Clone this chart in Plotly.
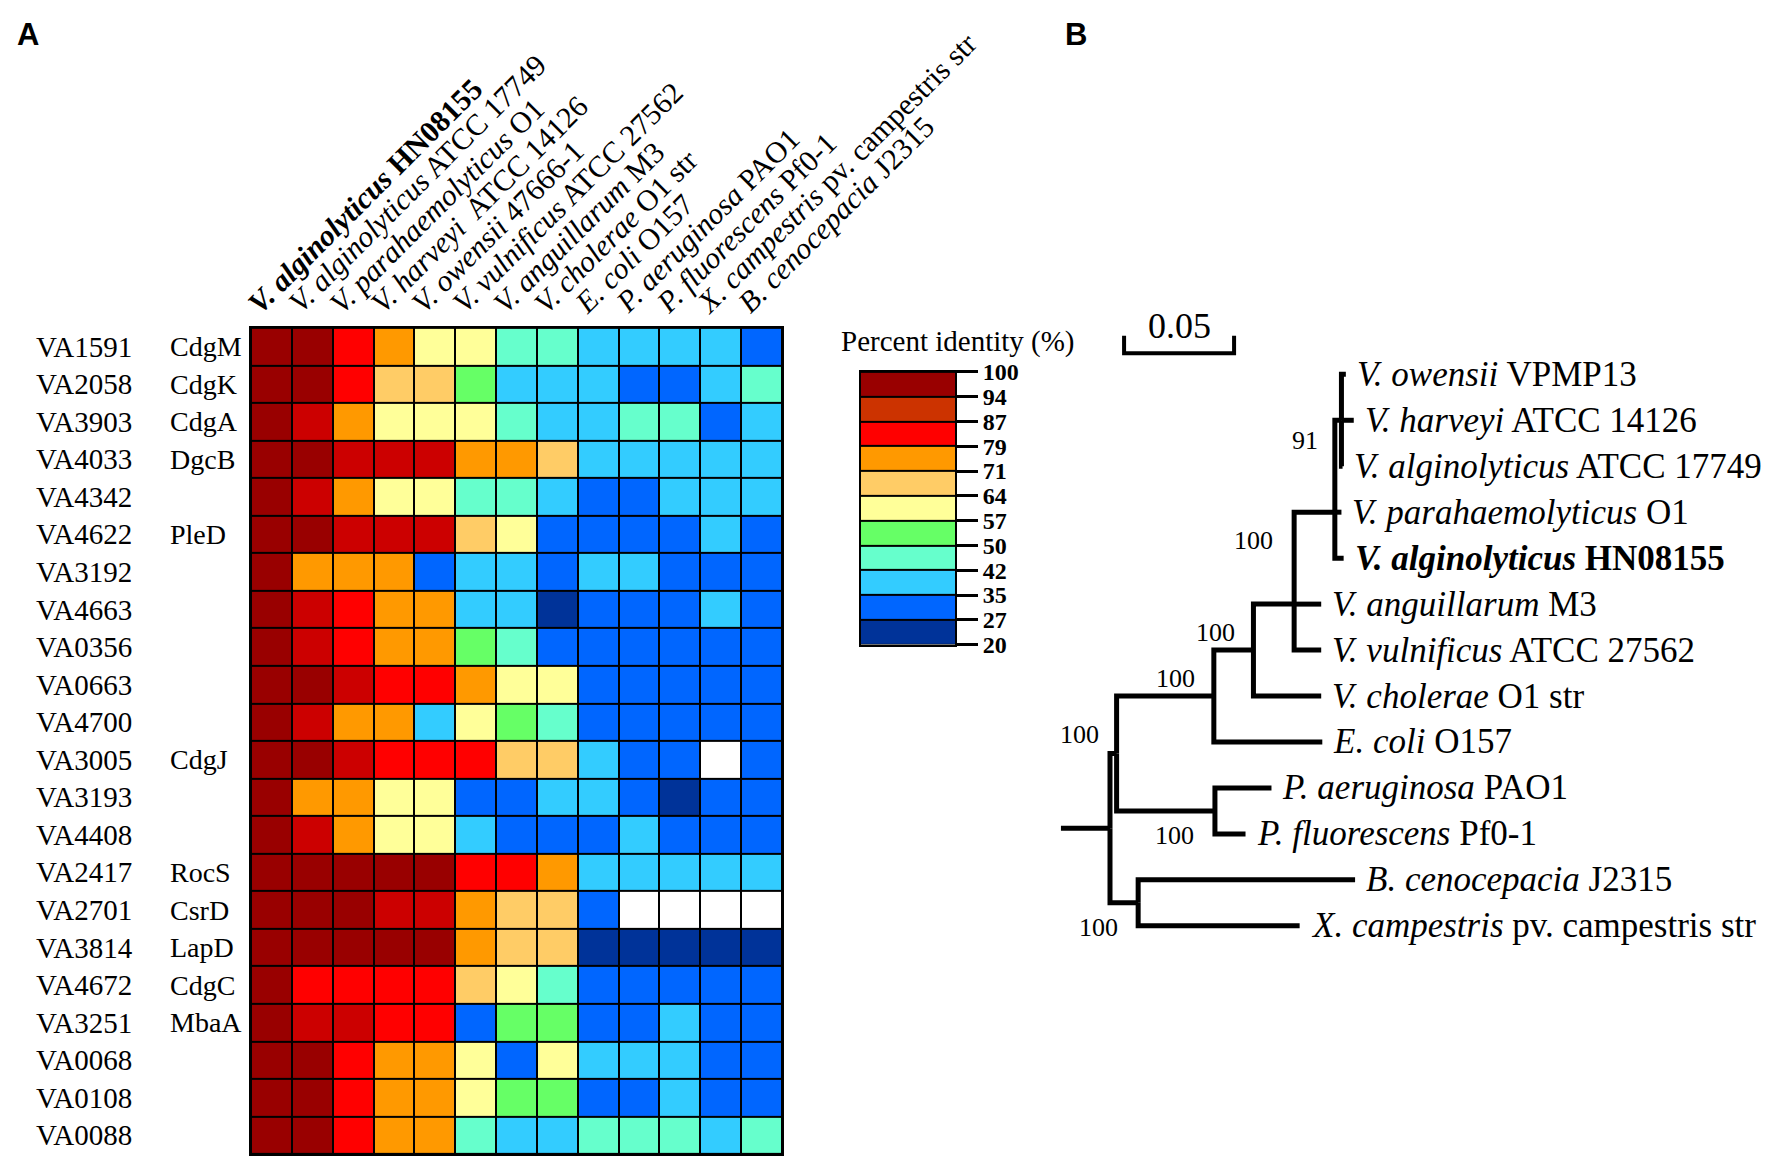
import plotly.graph_objects as go

# ---------------- data ----------------
COLUMNS = [
    "<b><i>V. alginolyticus</i> HN08155</b>",
    "<i>V. alginolyticus</i> ATCC 17749",
    "<i>V. parahaemolyticus</i> O1",
    "<i>V. harveyi</i>\u00a0 ATCC 14126",
    "<i>V. owensii</i> 47666-1",
    "<i>V. vulnificus</i> ATCC 27562",
    "<i>V. anguillarum</i> M3",
    "<i>V. cholerae</i> O1 str",
    "<i>E. coli</i> O157",
    "<i>P. aeruginosa</i> PAO1",
    "<i>P. fluorescens</i> Pf0-1",
    "<i>X. campestris</i> pv. campestris str",
    "<i>B. cenocepacia</i> J2315",
]

ROW_IDS = ["VA1591", "VA2058", "VA3903", "VA4033", "VA4342", "VA4622", "VA3192",
           "VA4663", "VA0356", "VA0663", "VA4700", "VA3005", "VA3193", "VA4408",
           "VA2417", "VA2701", "VA3814", "VA4672", "VA3251", "VA0068", "VA0108",
           "VA0088"]
GENE_NAMES = ["CdgM", "CdgK", "CdgA", "DgcB", "", "PleD", "", "", "", "", "",
              "CdgJ", "", "", "RocS", "CsrD", "LapD", "CdgC", "MbaA", "", "", ""]

N = None  # no homolog (white cell)
IDENTITY = [
    [100, 96, 84, 76, 61, 59, 47, 45, 39, 38, 37, 38, 31],
    [100, 95, 83, 68, 66, 54, 39, 38, 37, 32, 31, 38, 45],
    [100, 91, 74, 61, 60, 59, 45, 40, 39, 46, 44, 32, 38],
    [100, 95, 90, 89, 88, 76, 74, 66, 39, 38, 37, 38, 37],
    [100, 91, 75, 60, 61, 46, 44, 38, 33, 32, 38, 37, 39],
    [100, 96, 90, 89, 89, 67, 61, 32, 31, 31, 30, 37, 31],
    [100, 74, 73, 73, 32, 38, 37, 31, 38, 37, 31, 30, 31],
    [100, 90, 84, 75, 74, 38, 37, 24, 31, 30, 30, 38, 31],
    [100, 89, 82, 74, 73, 53, 45, 32, 30, 31, 30, 30, 29],
    [100, 95, 89, 84, 83, 75, 60, 59, 31, 31, 30, 30, 30],
    [100, 90, 76, 73, 38, 60, 53, 46, 31, 30, 30, 29, 30],
    [100, 96, 91, 84, 83, 82, 67, 66, 38, 32, 31, N, 31],
    [100, 75, 74, 61, 60, 32, 31, 38, 37, 31, 25, 30, 31],
    [100, 90, 74, 60, 61, 37, 31, 31, 30, 38, 31, 30, 30],
    [100, 98, 97, 96, 96, 84, 83, 75, 39, 38, 38, 37, 38],
    [100, 97, 95, 91, 90, 74, 67, 66, 32, N, N, N, N],
    [100, 97, 96, 95, 95, 74, 68, 66, 24, 23, 24, 23, 24],
    [100, 85, 84, 83, 83, 67, 61, 45, 31, 30, 30, 30, 29],
    [100, 90, 89, 84, 83, 32, 54, 53, 31, 30, 38, 30, 31],
    [100, 95, 83, 75, 74, 60, 32, 59, 38, 37, 38, 31, 30],
    [100, 96, 84, 75, 74, 60, 53, 52, 31, 30, 38, 31, 30],
    [100, 96, 84, 76, 75, 46, 38, 38, 45, 44, 45, 38, 44],
]

BOUNDS = [20, 27, 35, 42, 50, 57, 64, 71, 79, 87, 94, 100]

# phylogenetic tree (panel B)
LEAF_LABELS = [
    "<i>V. owensii</i> VPMP13",
    "<i>V. harveyi</i> ATCC 14126",
    "<i>V. alginolyticus</i> ATCC 17749",
    "<i>V. parahaemolyticus</i> O1",
    "<b><i>V. alginolyticus</i> HN08155</b>",
    "<i>V. anguillarum</i> M3",
    "<i>V. vulnificus</i> ATCC 27562",
    "<i>V. cholerae</i> O1 str",
    "<i>E. coli</i> O157",
    "<i>P. aeruginosa</i> PAO1",
    "<i>P. fluorescens</i> Pf0-1",
    "<i>B. cenocepacia</i> J2315",
    "<i>X. campestris</i> pv. campestris str",
]
LEAF_BRANCH = [0.002, 0.0056, 0.0005, 0.003, 0.004, 0.0123, 0.0123, 0.0308,
               0.0493, 0.0257, 0.0139, 0.0986, 0.0734]

H = {"name": "H", "len": 0.003, "boot": 91, "kids": [0, 1, 2]}
G = {"name": "G", "len": 0.0185, "boot": None, "kids": [H, 3, 4]}
F = {"name": "F", "len": 0.0185, "boot": 100, "kids": [G, 5, 6]}
D = {"name": "D", "len": 0.018, "boot": 100, "kids": [F, 7]}
C = {"name": "C", "len": 0.0442, "boot": 100, "kids": [D, 8]}
P = {"name": "P", "len": 0.0447, "boot": 100, "kids": [9, 10]}
A = {"name": "A", "len": 0.003, "boot": 100, "kids": [C, P]}
B = {"name": "B", "len": 0.0128, "boot": 100, "kids": [11, 12]}
ROOT = {"name": "root", "len": 0.0, "boot": None, "kids": [A, B]}
SCALE_LENGTH = 0.05

# ---------------- style ----------------
HEAT_COLORS = ["#003399", "#0066FF", "#33CCFF", "#66FFCC", "#66FF66", "#FFFF99",
               "#FFCC66", "#FF9900", "#FF0000", "#CC0000", "#990000"]
LEGEND_COLORS = ["#003399", "#0066FF", "#33CCFF", "#66FFCC", "#66FF66", "#FFFF99",
                 "#FFCC66", "#FF9900", "#FF0000", "#CC3300", "#990000"]
SERIF = "Liberation Serif, Times New Roman, serif"
W, Hh = 1772, 1174

lo, hi = BOUNDS[0], BOUNDS[-1]
colorscale = []
for i, c in enumerate(HEAT_COLORS):
    colorscale += [[(BOUNDS[i] - lo) / (hi - lo), c], [(BOUNDS[i + 1] - lo) / (hi - lo), c]]

nrows, ncols = len(ROW_IDS), len(COLUMNS)
fig = go.Figure()

# ---------- heatmap ----------
fig.add_trace(go.Heatmap(
    z=IDENTITY, x=list(range(ncols)), y=list(range(nrows)),
    zmin=lo, zmax=hi, colorscale=colorscale, showscale=False,
    xgap=2, ygap=2, hoverongaps=False, xaxis="x", yaxis="y"))
mask = [[1 if v is None else None for v in row] for row in IDENTITY]
fig.add_trace(go.Heatmap(
    z=mask, x=list(range(ncols)), y=list(range(nrows)),
    colorscale=[[0, "white"], [1, "white"]], showscale=False,
    xgap=2, ygap=2, xaxis="x", yaxis="y"))
fig.add_shape(type="rect", xref="x", yref="y", x0=-0.5, x1=ncols - 0.5,
              y0=-0.5, y1=nrows - 0.5, fillcolor="black", line_width=0, layer="below")

HM_X = [251 / W, 782 / W]
HM_Y = [1 - 1167 / Hh, 1 - 322 / Hh]

annotations = []
for k, (rid, gname) in enumerate(zip(ROW_IDS, GENE_NAMES)):
    annotations.append(dict(x=34 / W, xref="paper", y=k, yref="y", text=rid,
                            xanchor="left", yanchor="middle", showarrow=False,
                            font=dict(family=SERIF, size=29, color="black")))
    if gname:
        annotations.append(dict(x=168 / W, xref="paper", y=k, yref="y", text=gname,
                                xanchor="left", yanchor="middle", showarrow=False,
                                font=dict(family=SERIF, size=28, color="black")))
for i, col in enumerate(COLUMNS):
    annotations.append(dict(x=i, xref="x", y=HM_Y[1], yref="paper", text=col,
                            textangle=-45, xanchor="left", yanchor="bottom",
                            xshift=-33, yshift=6, showarrow=False,
                            font=dict(family=SERIF, size=30, color="black")))

# ---------- legend (discrete colour key) ----------
nb = len(LEGEND_COLORS)
leg_scale = []
for k, c in enumerate(LEGEND_COLORS):
    leg_scale += [[k / nb, c], [(k + 1) / nb, c]]
fig.add_trace(go.Heatmap(
    z=[[k] for k in range(nb)], x=[0], y=list(range(nb)), zmin=-0.5, zmax=nb - 0.5,
    colorscale=leg_scale, showscale=False, ygap=2, xaxis="x3", yaxis="y3",
    hoverinfo="skip"))
fig.add_shape(type="rect", xref="x3", yref="y3", x0=-0.5, x1=0.5, y0=-0.5,
              y1=nb - 0.5, fillcolor="black", line_width=0, layer="below")
annotations.append(dict(x=958 / W, xref="paper", y=1 - 336 / Hh, yref="paper",
                        text="Percent identity (%)", showarrow=False,
                        xanchor="center", yanchor="middle",
                        font=dict(family=SERIF, size=29, color="black")))

# ---------- tree ----------
tree_x, tree_y = [], []
leaf_end = {}
node_pos = {}


def place(node, x0):
    if isinstance(node, int):
        x = x0 + LEAF_BRANCH[node]
        leaf_end[node] = x
        return x, float(node)
    x = x0 + node["len"]
    kids = [place(k, x) for k in node["kids"]]
    if len(kids) % 2 == 1:
        y = kids[len(kids) // 2][1]
    else:
        y = (kids[0][1] + kids[-1][1]) / 2
    for kid, (kx, ky) in zip(node["kids"], kids):
        end_x = kx if isinstance(kid, int) else x + kid["len"]
        tree_x.extend([x, x, end_x, None])
        tree_y.extend([y, ky, ky, None])
    node_pos[node["name"]] = (x, y)
    return x, y


rx, ry = place(ROOT, 0.0)
tree_x.extend([-0.0223, rx, None])
tree_y.extend([ry, ry, None])
fig.add_trace(go.Scatter(x=tree_x, y=tree_y, mode="lines", xaxis="x2", yaxis="y2",
                         line=dict(color="black", width=5), hoverinfo="skip",
                         showlegend=False))

for i, lab in enumerate(LEAF_LABELS):
    annotations.append(dict(x=leaf_end[i], xref="x2", y=i, yref="y2", text=lab,
                            xanchor="left", yanchor="middle", xshift=9,
                            showarrow=False,
                            font=dict(family=SERIF, size=35, color="black")))

BOOT_OFFSETS = {"H": (-36, -20), "F": (-41, 64), "D": (-38, 18), "C": (-38, 18),
                "A": (-37, 19), "P": (-40, -25), "B": (-40, -25)}


def boots(node):
    if isinstance(node, int):
        return
    if node["boot"] is not None:
        nx, ny = node_pos[node["name"]]
        dx, dy = BOOT_OFFSETS[node["name"]]
        annotations.append(dict(x=nx, xref="x2", y=ny, yref="y2", text=str(node["boot"]),
                                xshift=dx, yshift=dy, showarrow=False,
                                xanchor="center", yanchor="middle",
                                font=dict(family=SERIF, size=26, color="black")))
    for k in node["kids"]:
        boots(k)


boots(ROOT)

# scale bar
sb0 = 0.0064
fig.add_trace(go.Scatter(x=[sb0, sb0, sb0 + SCALE_LENGTH, sb0 + SCALE_LENGTH],
                         y=[-0.84, -0.457, -0.457, -0.84], mode="lines",
                         xaxis="x2", yaxis="y2", line=dict(color="black", width=4),
                         hoverinfo="skip", showlegend=False))
annotations.append(dict(x=sb0 + SCALE_LENGTH / 2, xref="x2", y=-1.05, yref="y2",
                        text=f"{SCALE_LENGTH:.2f}", showarrow=False,
                        xanchor="center", yanchor="middle",
                        font=dict(family=SERIF, size=36, color="black")))

# panel letters
for letter, px in (("A", 28), ("B", 1076)):
    annotations.append(dict(x=px / W, xref="paper", y=1 - 22 / Hh, yref="paper",
                            text=f"<b>{letter}</b>", showarrow=False,
                            xanchor="center", yanchor="middle",
                            font=dict(family="Liberation Sans Narrow, Liberation Sans, Arial",
                                      size=31, color="black")))

TREE_ROOT_PX = 1110
PX_PER_UNIT = 2200
tree_dom = [0.56, 1.0]
tx0 = -(TREE_ROOT_PX - tree_dom[0] * W) / PX_PER_UNIT
tx1 = (W - TREE_ROOT_PX) / PX_PER_UNIT

fig.update_layout(
    width=W, height=Hh, margin=dict(l=0, r=0, t=0, b=0),
    paper_bgcolor="white", plot_bgcolor="white", showlegend=False,
    xaxis=dict(domain=HM_X, range=[-0.5, ncols - 0.5], showticklabels=False,
               ticks="", showgrid=False, zeroline=False, showline=True, mirror=True,
               linecolor="black", linewidth=2, anchor="y"),
    yaxis=dict(domain=HM_Y, range=[nrows - 0.5, -0.5], showticklabels=False,
               ticks="", showgrid=False, zeroline=False, showline=True, mirror=True,
               linecolor="black", linewidth=2, anchor="x"),
    xaxis2=dict(domain=tree_dom, range=[tx0, tx1], visible=False, anchor="y2"),
    yaxis2=dict(domain=[0, 1], range=[(Hh - 369.5) / 47.0, -369.5 / 47.0],
                visible=False, anchor="x2"),
    xaxis3=dict(domain=[861 / W, 955 / W], range=[-0.5, 0.5], showticklabels=False,
                ticks="", showgrid=False, zeroline=False, showline=True, mirror=True,
                linecolor="black", linewidth=2, anchor="y3"),
    yaxis3=dict(domain=[1 - 646 / Hh, 1 - 367 / Hh], range=[-0.5, nb - 0.5],
                side="right", tickvals=[k - 0.5 for k in range(nb + 1)],
                ticktext=[str(b) for b in BOUNDS], ticks="outside", ticklen=21,
                tickwidth=3, tickcolor="black", showgrid=False, zeroline=False,
                showline=True, mirror=True, linecolor="black", linewidth=2,
                tickfont=dict(family=SERIF, size=24, color="black", weight="bold"),
                anchor="x3"),
    annotations=annotations,
)

POST = ("document.documentElement.style.margin='0';"
        "document.body.style.margin='0';document.body.style.padding='0';"
        "document.body.style.overflow='hidden';"
        "var gd=document.getElementById('{plot_id}');"
        "gd.style.position='fixed';gd.style.left='0px';gd.style.top='0px';")

fig.write_html("out.html", config={"displayModeBar": False}, post_script=POST)
